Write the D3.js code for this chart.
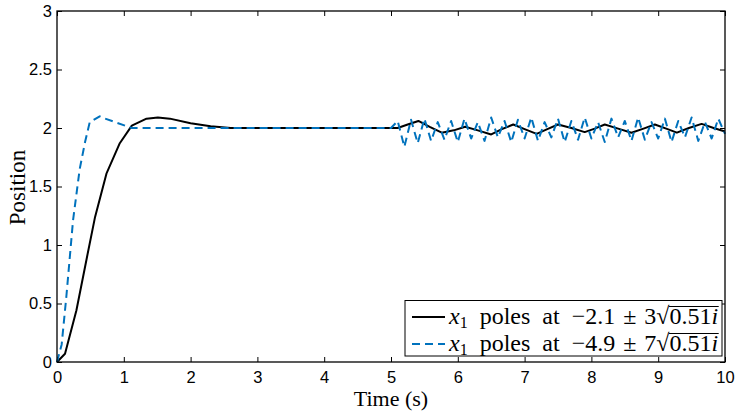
<!DOCTYPE html>
<html>
<head>
<meta charset="utf-8">
<script src="https://cdn.jsdelivr.net/npm/d3@7"></script>
<style>
body { margin: 0; background: #fff; }
</style>
</head>
<body>
<script>
// series 1: poles at -2.1 +/- 3 sqrt(0.51) i
var timeA = [0, 0.12, 0.29, 0.45, 0.57, 0.74, 0.94, 1.12, 1.34, 1.51, 1.69, 2.0, 2.3, 2.6, 3.0, 4.0, 5.0,
             5.1, 5.25, 5.41, 5.58, 5.76, 5.94, 6.11, 6.3, 6.5, 6.66, 6.83, 7.0, 7.18, 7.34, 7.5, 7.7,
             7.9, 8.05, 8.2, 8.4, 8.6, 8.78, 8.95, 9.12, 9.28, 9.46, 9.65, 9.83, 10.0];
var posA  = [0, 0.07, 0.44, 0.9, 1.24, 1.61, 1.87, 2.02, 2.08, 2.09, 2.08, 2.04, 2.015, 2.0, 2.0, 2.0, 2.0,
             2.0, 2.03, 2.06, 2.01, 1.96, 1.98, 2.01, 1.98, 1.945, 1.99, 2.03, 1.99, 1.95, 1.99, 2.03, 2.0,
             1.965, 1.995, 2.03, 1.995, 1.96, 1.995, 2.03, 1.995, 1.96, 2.0, 2.035, 2.0, 1.97];

// series 2: poles at -4.9 +/- 7 sqrt(0.51) i
var timeB = [0, 0.07, 0.14, 0.24, 0.34, 0.42, 0.49, 0.64, 0.72, 1.12, 2, 3, 4, 5.0,
             5.1, 5.2, 5.3, 5.4, 5.5, 5.6, 5.7, 5.8, 5.9, 6.0, 6.1, 6.2, 6.3, 6.4, 6.5, 6.6, 6.7, 6.8, 6.9,
             7.0, 7.1, 7.2, 7.3, 7.4, 7.5, 7.6, 7.7, 7.8, 7.9, 8.0, 8.1, 8.2, 8.3, 8.4, 8.5, 8.6, 8.7, 8.8,
             8.9, 9.0, 9.1, 9.2, 9.3, 9.4, 9.5, 9.6, 9.7, 9.8, 9.9, 10.0];
var posB  = [0, 0.15, 0.56, 1.21, 1.65, 1.88, 2.05, 2.10, 2.08, 2.0, 2.0, 2.0, 2.0, 2.0,
             2.06, 1.84, 2.07, 1.87, 2.08, 1.89, 2.05, 1.90, 2.06, 1.88, 2.08, 1.91, 2.05, 1.89, 2.09, 1.92, 2.06, 1.88, 2.07,
             1.91, 2.09, 1.89, 2.05, 1.92, 2.08, 1.88, 2.06, 1.90, 2.09, 1.91, 2.05, 1.88, 2.08, 1.92, 2.06, 1.89, 2.09, 1.90,
             2.05, 1.91, 2.08, 1.88, 2.06, 1.92, 2.09, 1.89, 2.05, 1.91, 2.08, 1.95];

var xTicks = [0, 1, 2, 3, 4, 5, 6, 7, 8, 9, 10];
var yTicks = [0, 0.5, 1, 1.5, 2, 2.5, 3];

var seriesColors = ["#000000", "#0072BD"];
var seriesDash = [null, "8,5"];
var sp = "\u2004"; // a bit wider than a normal space, like tex math spacing
var wide = "\u2002";
var legendLabels = [
    [{t: "x", it: true}, {t: "1", sub: true}, {t: wide + "poles" + wide + "at" + wide + "\u2212" + "2.1" + sp + "\u00b1" + sp + "3"}, {t: "\u221a"}, {t: "0.51", over: true}, {t: "i", it: true, over: true}],
    [{t: "x", it: true}, {t: "1", sub: true}, {t: wide + "poles" + wide + "at" + wide + "\u2212" + "4.9" + sp + "\u00b1" + sp + "7"}, {t: "\u221a"}, {t: "0.51", over: true}, {t: "i", it: true, over: true}]
];

var width = 738, height = 412;
var margin = {top: 11, right: 13, bottom: 50, left: 57};
var w = width - margin.left - margin.right;
var h = height - margin.top - margin.bottom;

var svg = d3.select("body").append("svg")
            .attr("width", width)
            .attr("height", height);

var g = svg.append("g")
           .attr("transform", "translate(" + margin.left + "," + margin.top + ")");

var x = d3.scaleLinear().domain([0, 10]).range([0, w]);
var y = d3.scaleLinear().domain([0, 3]).range([h, 0]);

var tickFont = "'Liberation Sans Narrow', 'Liberation Sans', Arial, sans-serif";
var serif = "'Liberation Serif', 'Times New Roman', serif";

// axes, ticks pointing inward like matlab
g.append("g")
 .attr("transform", "translate(0," + h + ")")
 .call(d3.axisBottom(x).tickValues(xTicks).tickSizeInner(-5).tickSizeOuter(0).tickPadding(9));
g.append("g")
 .call(d3.axisLeft(y).tickValues(yTicks).tickSizeInner(-5).tickSizeOuter(0).tickPadding(5)
       .tickFormat(function(d) { return d3.format("")(d); }));
g.append("g").call(d3.axisTop(x).tickValues(xTicks).tickSizeInner(-5).tickSizeOuter(0).tickFormat(""));
g.append("g").attr("transform", "translate(" + w + ",0)")
 .call(d3.axisRight(y).tickValues(yTicks).tickSizeInner(-5).tickSizeOuter(0).tickFormat(""));

g.selectAll(".domain").remove();
g.selectAll(".tick line").attr("stroke", "#000").attr("stroke-width", 1);
g.selectAll(".tick text")
 .attr("fill", "#000")
 .style("font-family", tickFont)
 .style("font-size", "16.5px");

// lines
var line = d3.line()
             .x(function(d) { return x(d[0]); })
             .y(function(d) { return y(d[1]); });

var dataA = timeA.map(function(t, i) { return [t, posA[i]]; });
var dataB = timeB.map(function(t, i) { return [t, posB[i]]; });

[dataA, dataB].forEach(function(d, i) {
    g.append("path")
     .datum(d)
     .attr("fill", "none")
     .attr("stroke", seriesColors[i])
     .attr("stroke-width", 2)
     .attr("stroke-dasharray", seriesDash[i])
     .attr("stroke-linejoin", "round")
     .attr("d", line);
});

// frame
g.append("rect")
 .attr("x", 0).attr("y", 0)
 .attr("width", w).attr("height", h)
 .attr("fill", "none")
 .attr("stroke", "#000")
 .attr("stroke-width", 1.3);

// axis titles
svg.append("text")
   .attr("x", margin.left + w / 2)
   .attr("y", 406)
   .attr("text-anchor", "middle")
   .style("font-family", serif)
   .style("font-size", "22px")
   .text("Time (s)");

svg.append("text")
   .attr("transform", "translate(25," + (margin.top + h / 2 + 1) + ") rotate(-90)")
   .attr("text-anchor", "middle")
   .style("font-family", serif)
   .style("font-size", "23px")
   .text("Position");

// legend
var legend = svg.append("g");
legend.append("rect")
      .attr("x", 405).attr("y", 300.5)
      .attr("width", 317).attr("height", 55.5)
      .attr("fill", "#fff")
      .attr("stroke", "#000")
      .attr("stroke-width", 1);

legendLabels.forEach(function(pieces, i) {
    var ly = 317 + i * 27;
    legend.append("line")
          .attr("x1", 412).attr("x2", 445)
          .attr("y1", ly).attr("y2", ly)
          .attr("stroke", seriesColors[i])
          .attr("stroke-width", 2)
          .attr("stroke-dasharray", seriesDash[i]);
    var cx = 449;
    pieces.forEach(function(p) {
        var t = legend.append("text")
                      .attr("x", cx)
                      .attr("y", ly + 7 + (p.sub ? 4 : 0))
                      .style("font-family", serif)
                      .style("font-size", p.sub ? "16px" : "24px")
                      .style("font-style", p.it ? "italic" : "normal")
                      .text(p.t);
        var tw = t.node().getComputedTextLength();
        if (p.over) {
            legend.append("line")
                  .attr("x1", cx - 0.5).attr("x2", cx + tw + 0.5)
                  .attr("y1", ly - 10.5).attr("y2", ly - 10.5)
                  .attr("stroke", "#000").attr("stroke-width", 1);
        }
        cx += tw;
    });
});
</script>
</body>
</html>
